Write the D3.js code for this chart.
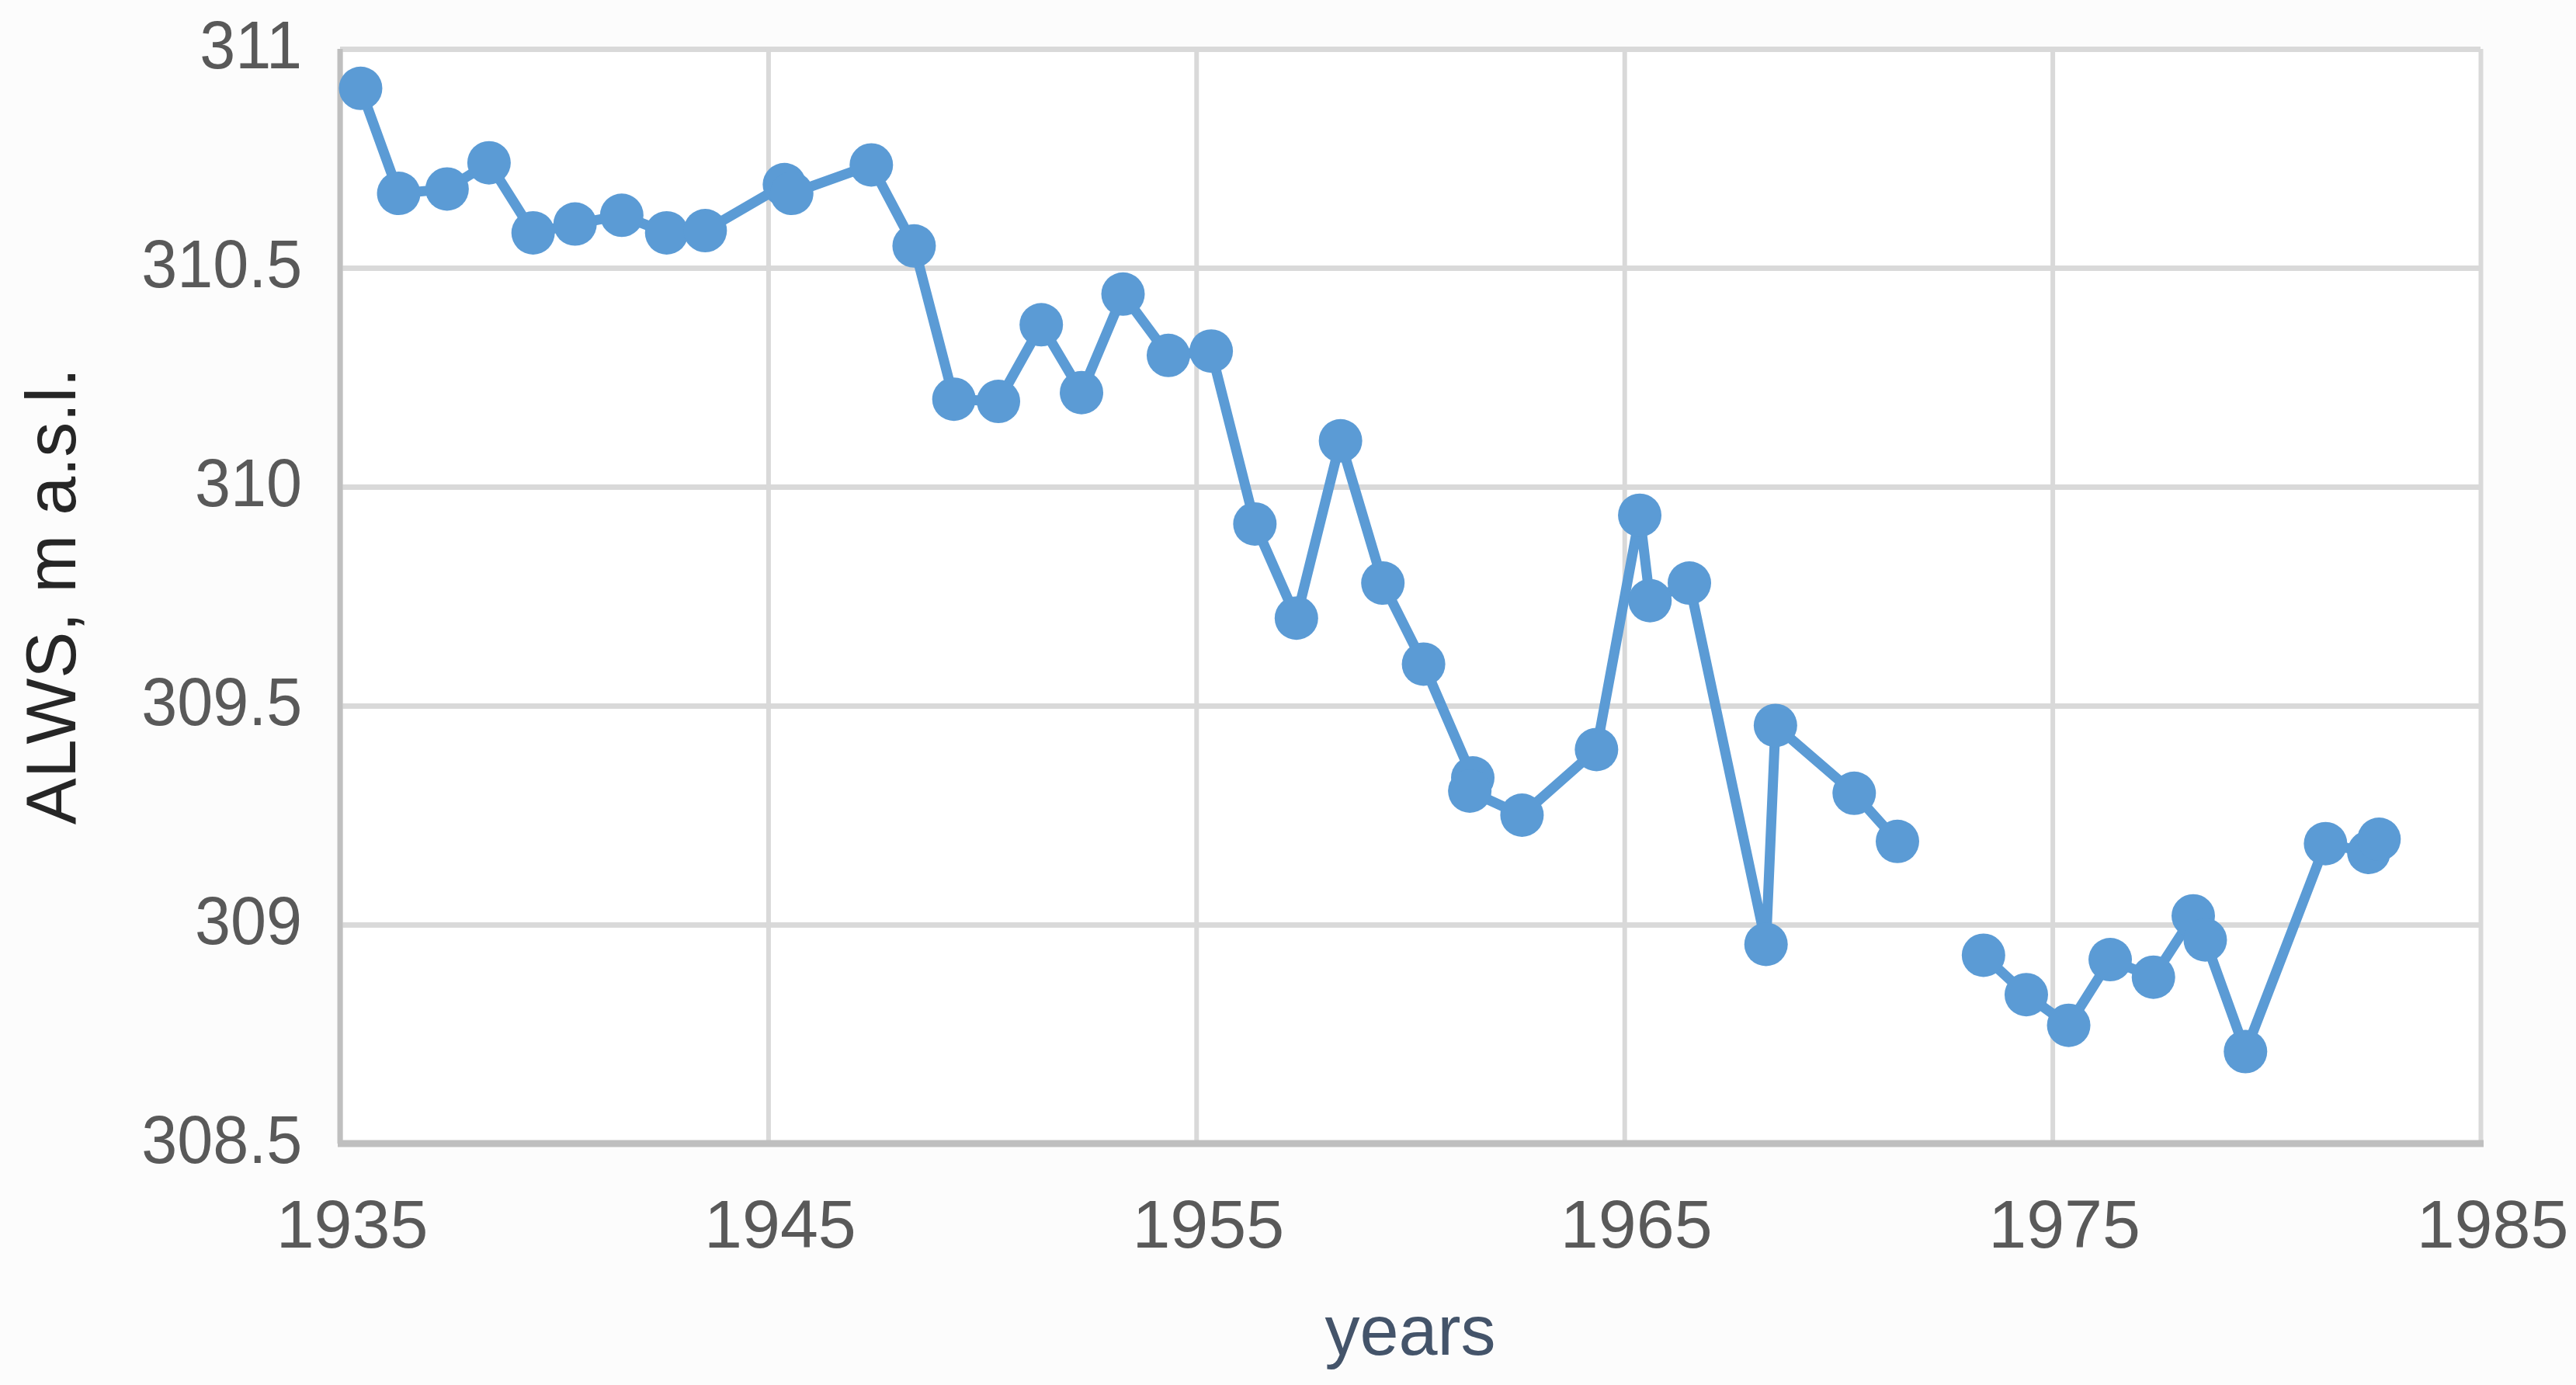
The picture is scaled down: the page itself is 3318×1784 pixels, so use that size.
<!DOCTYPE html>
<html>
<head>
<meta charset="utf-8">
<script src="https://cdn.jsdelivr.net/npm/d3@7"></script>
<style>
  html, body { margin: 0; padding: 0; background: #fcfcfc; }
  svg { display: block; }
  text { font-family: "Liberation Sans", Arial, sans-serif; }
</style>
</head>
<body>
<script>
// observation dates (decimal years) and ALWS, m a.s.l.; null = gap in record
var years = [1935.48, 1936.37, 1937.50, 1938.48, 1939.51, 1940.49, 1941.58, 1942.63, 1943.53,
  1945.38, 1945.55, 1947.41, 1948.41, 1949.34, 1950.38, 1951.38, 1952.32, 1953.29, 1954.35,
  1955.35, 1956.37, 1957.34, 1958.37, 1959.36, 1960.31, 1961.46, 1961.39, 1962.61, 1964.35,
  1965.36, 1965.60, 1966.52, 1968.31, 1968.53, 1970.37, 1971.38, 1972.4,
  1973.39, 1974.39, 1975.38, 1976.35, 1977.36, 1978.29, 1978.57, 1979.51, 1981.38, 1982.39, 1982.63];
var alws = [310.91, 310.67, 310.68, 310.74, 310.58, 310.60, 310.62, 310.58, 310.585,
  310.69, 310.67, 310.735, 310.55, 310.20, 310.195, 310.37, 310.215, 310.44, 310.30,
  310.31, 309.915, 309.70, 310.105, 309.78, 309.595, 309.335, 309.305, 309.25, 309.40,
  309.935, 309.74, 309.78, 308.955, 309.455, 309.30, 309.19, null,
  308.93, 308.84, 308.77, 308.92, 308.88, 309.02, 308.965, 308.71, 309.185, 309.165, 309.195];
var xTicks = [1935, 1945, 1955, 1965, 1975, 1985];
var yTicks = [308.5, 309, 309.5, 310, 310.5, 311];

var W = 3318, H = 1784;
var margin = {left: 438, top: 63, right: 123, bottom: 311};
var pw = W - margin.left - margin.right, ph = H - margin.top - margin.bottom;

var data = years.map(function(y, i){ return {year: y, v: alws[i]}; });

var svg = d3.select("body").append("svg").attr("width", W).attr("height", H);
var g = svg.append("g").attr("transform", "translate(" + margin.left + "," + margin.top + ")");

var x = d3.scaleLinear().domain([1935, 1985]).range([0, pw]);
var y = d3.scaleLinear().domain([308.5, 311]).range([ph, 0]);

g.append("rect").attr("width", pw).attr("height", ph).attr("fill", "#ffffff");

// gridlines
var yGrid = g.append("g").call(d3.axisLeft(y).tickValues(yTicks).tickSize(-pw).tickFormat(""));
yGrid.select(".domain").remove();
yGrid.selectAll("line").attr("stroke", "#d9d9d9").attr("stroke-width", 7);

var xGrid = g.append("g").attr("transform", "translate(0," + ph + ")")
  .call(d3.axisBottom(x).tickValues(xTicks).tickSize(-ph).tickFormat(""));
xGrid.select(".domain").remove();
xGrid.selectAll("line").attr("stroke", "#d9d9d9").attr("stroke-width", 6);

// axis lines
g.append("line").attr("x1", 0).attr("x2", 0).attr("y1", 0).attr("y2", ph)
  .attr("stroke", "#bfbfbf").attr("stroke-width", 7);
g.append("line").attr("x1", -3).attr("x2", pw + 4).attr("y1", ph).attr("y2", ph)
  .attr("stroke", "#bfbfbf").attr("stroke-width", 9);

// tick labels
var yAxis = g.append("g").call(d3.axisLeft(y).tickValues(yTicks).tickSize(0).tickPadding(52).tickFormat(d3.format("")));
yAxis.select(".domain").remove();
yAxis.selectAll("text").attr("font-size", 88).attr("fill", "#595959")
  .attr("dy", 24).attr("transform", "scale(0.94,1)")
  .style("font-family", "'Liberation Sans', Arial, sans-serif");

var xAxis = g.append("g").attr("transform", "translate(0," + ph + ")")
  .call(d3.axisBottom(x).tickValues(xTicks).tickSize(0).tickPadding(0).tickFormat(d3.format("d")));
xAxis.select(".domain").remove();
xAxis.selectAll("text").attr("font-size", 88).attr("fill", "#595959")
  .attr("y", 134).attr("dy", 0).attr("dx", 15).style("font-family", "'Liberation Sans', Arial, sans-serif");

// series
var line = d3.line()
  .defined(function(d){ return d.v !== null; })
  .x(function(d){ return x(d.year); })
  .y(function(d){ return y(d.v); });

g.append("path").datum(data).attr("d", line)
  .attr("fill", "none").attr("stroke", "#5b9bd5").attr("stroke-width", 13)
  .attr("stroke-linejoin", "round");

g.selectAll("circle.pt").data(data.filter(function(d){ return d.v !== null; }))
  .enter().append("circle").attr("class", "pt")
  .attr("cx", function(d){ return x(d.year); })
  .attr("cy", function(d){ return y(d.v); })
  .attr("r", 28).attr("fill", "#5b9bd5");

// axis titles
svg.append("text").attr("x", margin.left + pw / 2).attr("y", 1745)
  .attr("text-anchor", "middle").attr("font-size", 90).attr("fill", "#44546a").text("years");
svg.append("text").attr("transform", "translate(97," + (margin.top + ph / 2) + ") rotate(-90)")
  .attr("text-anchor", "middle").attr("font-size", 90).attr("fill", "#262626").text("ALWS, m a.s.l.");
</script>
</body>
</html>
